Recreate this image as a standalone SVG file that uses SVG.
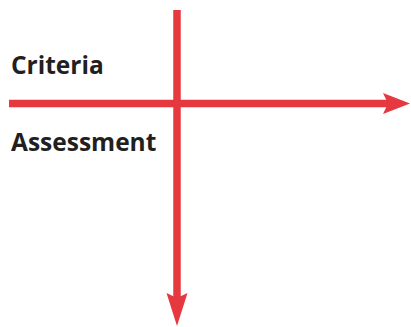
<svg xmlns="http://www.w3.org/2000/svg" width="411" height="327" viewBox="0 0 411 327">
<style>
.lbl{font-family:"Open Sans","Liberation Sans",sans-serif;font-weight:bold;font-size:24.5px;fill:#231f20}
.ax{stroke:#e5383f;stroke-width:7.5;fill:none}
.hd{fill:#e5383f}
</style>
<rect width="411" height="327" fill="#fff"/>
<g id="connectors">
<line class="ax" x1="9" y1="103.5" x2="388" y2="103.5"/>
<path class="hd" d="M410,103.5 L383,93 L388,103.5 L383,114 Z"/>
<line class="ax" x1="177" y1="10" x2="177" y2="300"/>
<path class="hd" d="M177,326 L166.5,293 L177,298 L187.5,293 Z"/>
</g>
<g id="criteria"><text class="lbl" x="11" y="74">Criteria</text></g>
<g id="assessment"><text class="lbl" x="11" y="151">Assessment</text></g>
</svg>
